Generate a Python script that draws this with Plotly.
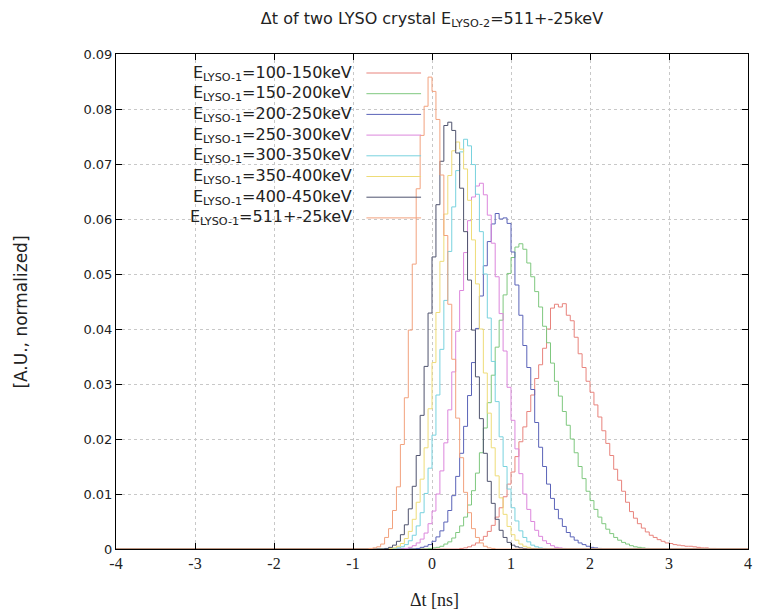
import plotly.graph_objects as go

BIN_WIDTH = 0.05
X_MIN, X_MAX = -4.0, 4.0
Y_MAX = 0.09

LABELS = ["E<sub>LYSO-1</sub>=100-150keV", "E<sub>LYSO-1</sub>=150-200keV",
          "E<sub>LYSO-1</sub>=200-250keV", "E<sub>LYSO-1</sub>=250-300keV",
          "E<sub>LYSO-1</sub>=300-350keV", "E<sub>LYSO-1</sub>=350-400keV",
          "E<sub>LYSO-1</sub>=400-450keV", "E<sub>LYSO-1</sub>=511+-25keV"]
COLORS = ["#e8837c", "#7fc87f", "#5a63b8", "#dc86dc", "#78d2de", "#eedc78", "#4f536e", "#f2a27e"]

# first bin edge of each histogram
STARTS = [0.35, -0.05, -0.20, -0.35, -0.50, -0.55, -0.60, -0.80]

H_100_150 = [0.0001, 0.0002, 0.0004, 0.0007, 0.0011, 0.0016, 0.0023, 0.0032, 0.0043, 0.0058,
             0.0075, 0.0095, 0.0118, 0.0140, 0.0168, 0.0195, 0.0222, 0.0250, 0.0280, 0.0310,
             0.0335, 0.0365, 0.0400, 0.0438, 0.0445, 0.0440, 0.0446, 0.0425, 0.0415, 0.0385,
             0.0355, 0.0330, 0.0305, 0.0285, 0.0262, 0.0240, 0.0215, 0.0192, 0.0170, 0.0145,
             0.0125, 0.0105, 0.0085, 0.0068, 0.0056, 0.0046, 0.0038, 0.0031, 0.0025, 0.0021,
             0.0017, 0.0014, 0.0011, 0.0010, 0.0008, 0.0007, 0.0006, 0.0005, 0.0005, 0.0004,
             0.0003, 0.0002, 0.0002, 0.0001, 0.0001]
H_150_200 = [0.0001, 0.0002, 0.0003, 0.0005, 0.0009, 0.0013, 0.0020, 0.0030, 0.0042, 0.0058,
             0.0080, 0.0106, 0.0138, 0.0175, 0.0220, 0.0266, 0.0316, 0.0367, 0.0416, 0.0462,
             0.0501, 0.0530, 0.0549, 0.0555, 0.0545, 0.0520, 0.0495, 0.0468, 0.0440, 0.0405,
             0.0375, 0.0338, 0.0305, 0.0278, 0.0250, 0.0225, 0.0200, 0.0175, 0.0150, 0.0128,
             0.0105, 0.0088, 0.0072, 0.0058, 0.0046, 0.0036, 0.0028, 0.0021, 0.0016, 0.0012,
             0.0009, 0.0006, 0.0004, 0.0003, 0.0002, 0.0001]
H_200_250 = [0.0001, 0.0003, 0.0005, 0.0008, 0.0014, 0.0022, 0.0033, 0.0049, 0.0070, 0.0097,
             0.0132, 0.0174, 0.0223, 0.0279, 0.0339, 0.0401, 0.0460, 0.0515, 0.0559, 0.0591,
             0.0610, 0.0600, 0.0602, 0.0592, 0.0540, 0.0480, 0.0425, 0.0370, 0.0330, 0.0290,
             0.0230, 0.0185, 0.0150, 0.0118, 0.0092, 0.0072, 0.0055, 0.0041, 0.0030, 0.0022,
             0.0016, 0.0011, 0.0008, 0.0005, 0.0003, 0.0002, 0.0001]
H_250_300 = [0.0001, 0.0003, 0.0006, 0.0011, 0.0018, 0.0029, 0.0046, 0.0069, 0.0100, 0.0142,
             0.0193, 0.0253, 0.0322, 0.0396, 0.0470, 0.0539, 0.0597, 0.0640, 0.0660, 0.0665,
             0.0644, 0.0607, 0.0556, 0.0495, 0.0428, 0.0360, 0.0294, 0.0234, 0.0182, 0.0137,
             0.0100, 0.0072, 0.0050, 0.0034, 0.0023, 0.0015, 0.0010, 0.0006, 0.0003, 0.0002,
             0.0001]
H_300_350 = [0.0001, 0.0002, 0.0004, 0.0008, 0.0015, 0.0025, 0.0042, 0.0066, 0.0101, 0.0147,
             0.0207, 0.0280, 0.0363, 0.0452, 0.0541, 0.0622, 0.0688, 0.0722, 0.0745, 0.0733,
             0.0699, 0.0645, 0.0577, 0.0500, 0.0420, 0.0341, 0.0268, 0.0204, 0.0150, 0.0109,
             0.0075, 0.0051, 0.0033, 0.0021, 0.0013, 0.0007, 0.0004, 0.0002, 0.0001]
H_350_400 = [0.0001, 0.0002, 0.0005, 0.0010, 0.0019, 0.0032, 0.0054, 0.0085, 0.0127, 0.0184,
             0.0255, 0.0339, 0.0430, 0.0523, 0.0609, 0.0679, 0.0724, 0.0740, 0.0727, 0.0691,
             0.0634, 0.0562, 0.0482, 0.0400, 0.0320, 0.0247, 0.0184, 0.0133, 0.0093, 0.0063,
             0.0041, 0.0026, 0.0016, 0.0009, 0.0005, 0.0003, 0.0001]
H_400_450 = [0.0001, 0.0003, 0.0007, 0.0014, 0.0026, 0.0044, 0.0073, 0.0114, 0.0170, 0.0243,
             0.0332, 0.0429, 0.0531, 0.0626, 0.0705, 0.0770, 0.0776, 0.0761, 0.0720, 0.0656,
             0.0577, 0.0489, 0.0398, 0.0313, 0.0237, 0.0174, 0.0123, 0.0083, 0.0054, 0.0034,
             0.0021, 0.0012, 0.0007, 0.0004, 0.0002, 0.0001]
H_511 = [0.0001, 0.0002, 0.0004, 0.0009, 0.0021, 0.0037, 0.0070, 0.0113, 0.0190, 0.0275,
         0.0398, 0.0518, 0.0655, 0.0752, 0.0805, 0.0858, 0.0832, 0.0781, 0.0680, 0.0570,
         0.0445, 0.0345, 0.0238, 0.0166, 0.0103, 0.0066, 0.0037, 0.0021, 0.0011, 0.0005,
         0.0002, 0.0001]

SERIES = [H_100_150, H_150_200, H_200_250, H_250_300, H_300_350, H_350_400, H_400_450, H_511]

X_TICKS = [-4, -3, -2, -1, 0, 1, 2, 3, 4]
Y_TICKS = [0, 0.01, 0.02, 0.03, 0.04, 0.05, 0.06, 0.07, 0.08, 0.09]
Y_TICK_TEXT = ["0", "0.01", "0.02", "0.03", "0.04", "0.05", "0.06", "0.07", "0.08", "0.09"]

# ---- layout geometry (pixels) ----
W, H = 758, 613
L, R, T, B = 116, 6, 54, 64
PW, PH = W - L - R, H - T - B


def px_to_paper(px, py):
    return (px - L) / PW, (H - B - py) / PH


fig = go.Figure()
for name, start, vals, col in zip(LABELS, STARTS, SERIES, COLORS):
    edges = [start + i * BIN_WIDTH for i in range(len(vals) + 1)]
    xs = [X_MIN] + edges + [X_MAX]
    ys = [0.0] + list(vals) + [0.0, 0.0]
    fig.add_trace(go.Scatter(x=xs, y=ys, mode="lines", name=name,
                             line=dict(color=col, width=1, shape="hv"),
                             showlegend=False))

FONT = "DejaVu Sans"
annotations = []
shapes = []
# gnuplot-style key: text right-aligned, sample line to the right
for i, (name, col) in enumerate(zip(LABELS, COLORS)):
    py = 73 + 20.7 * i
    tx, ty = px_to_paper(356, py)
    annotations.append(dict(x=tx, y=ty, xref="paper", yref="paper", text=name,
                            showarrow=False, xanchor="right", yanchor="middle",
                            font=dict(family=FONT, size=16, color="#222")))
    x0, y0 = px_to_paper(368, py)
    x1, _ = px_to_paper(423, py)
    shapes.append(dict(type="line", xref="paper", yref="paper", x0=x0, x1=x1, y0=y0, y1=y0,
                       line=dict(color=col, width=1)))

ax, ay = px_to_paper(20, 312)
annotations.append(dict(x=ax, y=ay, xref="paper", yref="paper", text="[A.U., normalized]",
                        showarrow=False, textangle=-90, xanchor="center", yanchor="middle",
                        font=dict(family=FONT, size=17, color="#222")))
bx, by = px_to_paper(437, 600)
annotations.append(dict(x=bx, y=by, xref="paper", yref="paper", text="Δt [ns]",
                        showarrow=False, xanchor="center", yanchor="middle",
                        font=dict(family="Liberation Serif", size=18, color="#222")))

fig.update_layout(
    width=W, height=H,
    margin=dict(l=L, r=R, t=T, b=B),
    paper_bgcolor="white", plot_bgcolor="white",
    title=dict(text="Δt of two LYSO crystal E<sub>LYSO-2</sub>=511+-25keV",
               x=0.5, xref="paper", y=1 - 18 / H, yref="container",
               xanchor="center", yanchor="middle",
               font=dict(family=FONT, size=16, color="#222")),
    annotations=annotations, shapes=shapes,
)
fig.update_xaxes(range=[X_MIN, X_MAX], tickvals=X_TICKS, ticktext=[str(v) for v in X_TICKS],
                 showline=True, linecolor="black", linewidth=1, mirror="allticks",
                 ticks="inside", ticklen=6, tickcolor="black",
                 showgrid=True, gridcolor="#c8c8c8", griddash="dot", gridwidth=1,
                 zeroline=False,
                 tickfont=dict(family="Liberation Serif", size=16, color="#222"))
fig.update_yaxes(range=[0, Y_MAX], tickvals=Y_TICKS, ticktext=Y_TICK_TEXT,
                 showline=True, linecolor="black", linewidth=1, mirror="allticks",
                 ticks="inside", ticklen=6, tickcolor="black",
                 showgrid=True, gridcolor="#c8c8c8", griddash="dot", gridwidth=1,
                 zeroline=False,
                 tickfont=dict(family=FONT, size=13, color="#222"))

fig.write_html("out.html")
